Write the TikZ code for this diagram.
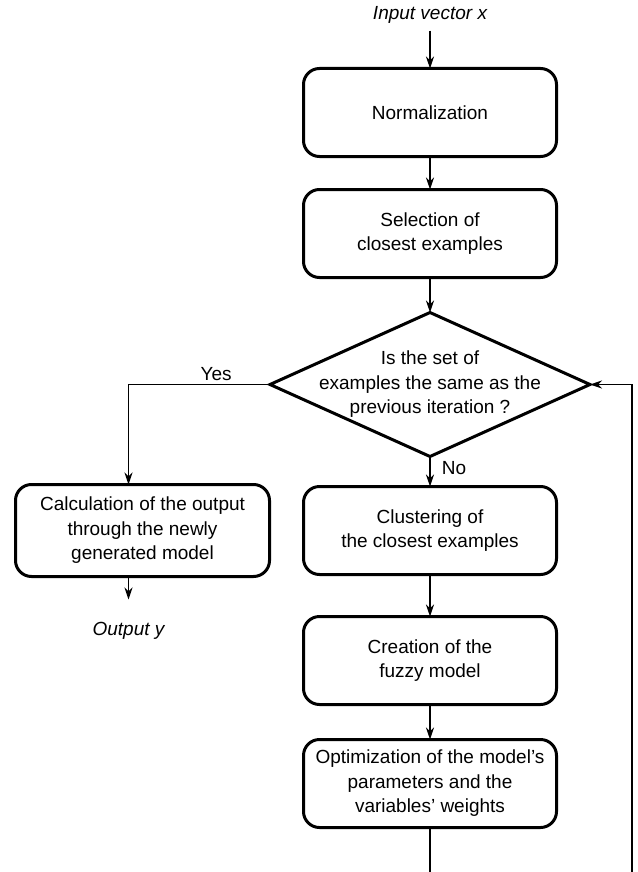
\documentclass[tikz,border=0pt]{standalone}
\usepackage{fontspec}
\setmainfont{Liberation Sans}
\usepackage{tikz}
\usetikzlibrary{shapes.geometric, arrows.meta, positioning}
\tikzset{
  proc/.style = {rectangle, rounded corners=16pt, draw=black, line width=3pt,
                 minimum width=253pt, minimum height=88pt, outer sep=0pt,
                 font=\fontsize{19}{24.5}\selectfont, align=center},
  dec/.style  = {diamond, draw=black, line width=3pt, inner sep=0pt, outer sep=0pt,
                 minimum width=320pt, minimum height=144pt},
  io/.style   = {inner sep=0pt, font=\fontsize{19}{24.5}\selectfont\itshape},
  lbl/.style  = {font=\fontsize{19}{24.5}\selectfont},
  arr/.style  = {-{Stealth[length=12pt, width=8pt]}, line width=1.3pt},
  lin/.style  = {line width=1.3pt},
}
\begin{document}
\begin{tikzpicture}[x=1pt, y=-1pt]
  \useasboundingbox (0,0) rectangle (637,872);

  % ── main chain
  \node[io] (in) at (430,15) {Input vector x};
  \node[proc] (norm) at (430,112.5) {Normalization};
  \node[proc, below=33pt of norm] (sel)   {Selection of\\closest examples};
  \node[dec,  below=35pt of sel]  (chk)
    [label={[lbl, align=center]center:Is the set of\\examples the same as the\\previous iteration ?}] {};
  \node[proc, below=30pt of chk]  (clust) {Clustering of\\the closest examples};
  \node[proc, below=42pt of clust] (fuzzy) {Creation of the\\fuzzy model};
  \node[proc, below=35pt of fuzzy] (opt)  {Optimization of the model's\\parameters and the\\variables' weights};

  % ── yes branch
  \node[proc, left=34pt of clust, minimum width=254pt, minimum height=92pt] (calc)
    {Calculation of the output\\through the newly\\generated model};
  \node[io, below=46pt of calc, xshift=-14pt] (out) {Output y};

  % ── loop ends
  \coordinate[below=45pt of opt] (optend);
  \coordinate (back) at (632,872);

  % ── arrows
  \draw[arr, shorten <=7pt] (in) -- (norm);
  \draw[arr] (norm) -- (sel);
  \draw[arr] (sel)  -- (chk);
  \draw[arr] (chk)  -- node[lbl, right, pos=0.37, xshift=8pt] {No} (clust);
  \draw[arr] (clust) -- (fuzzy);
  \draw[arr] (fuzzy) -- (opt);
  \draw[arr] (chk.west) -| node[lbl, above, pos=0.19] {Yes} (calc.north -| out);
  \draw[arr, shorten >=23pt] (calc.south -| out) -- (out);

  % ── feedback: opt → check
  \draw[lin] (opt) -- (optend);
  \draw[arr] (back) |- (chk.east);

\end{tikzpicture}
\end{document}
